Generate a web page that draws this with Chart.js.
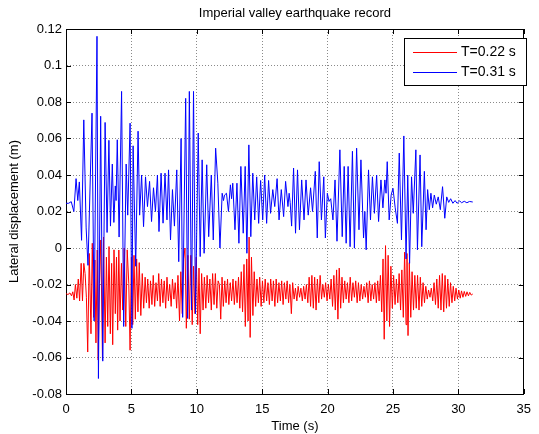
<!DOCTYPE html>
<html><head><meta charset="utf-8">
<script src="https://cdn.jsdelivr.net/npm/chart.js@4/dist/chart.umd.min.js"></script>
<style>html,body{margin:0;padding:0;background:#fff;}canvas{display:block;}</style>
</head><body>
<canvas id="c" width="539" height="434"></canvas>
<script>
const chartTitle = 'Imperial valley earthquake record';
const xAxisLabel = 'Time (s)';
const yAxisLabel = 'Lateral displacement (m)';
const seriesNames = ['T=0.22 s', 'T=0.31 s'];
const seriesColors = ['#ff0000', '#0000ff'];
const xTicks = [0, 5, 10, 15, 20, 25, 30, 35];
const yTicks = [-0.08, -0.06, -0.04, -0.02, 0, 0.02, 0.04, 0.06, 0.08, 0.1, 0.12];

const redTime = [0.00,0.15,0.30,0.42,0.52,0.62,0.72,0.83,0.94,1.04,1.16,1.26,1.36,1.46,1.56,1.66,1.78,1.91,2.01,2.11,2.21,2.29,2.39,2.46,2.56,2.66,2.79,2.87,2.99,3.09,3.19,3.29,3.39,3.49,3.57,3.67,3.77,3.86,3.95,4.04,4.13,4.24,4.34,4.45,4.57,4.68,4.80,4.90,5.00,5.10,5.20,5.30,5.40,5.50,5.60,5.72,5.83,5.94,6.05,6.15,6.25,6.36,6.46,6.57,6.67,6.78,6.88,6.99,7.09,7.20,7.30,7.41,7.51,7.62,7.72,7.83,7.93,8.04,8.14,8.25,8.35,8.46,8.56,8.68,8.78,8.89,8.99,9.10,9.20,9.32,9.43,9.54,9.65,9.75,9.86,9.96,10.07,10.17,10.26,10.37,10.48,10.58,10.69,10.79,10.90,11.00,11.11,11.21,11.32,11.42,11.53,11.63,11.73,11.83,11.93,12.03,12.14,12.24,12.35,12.45,12.56,12.66,12.77,12.87,12.98,13.08,13.19,13.29,13.40,13.50,13.61,13.71,13.82,13.92,14.00,14.08,14.18,14.29,14.39,14.50,14.60,14.71,14.81,14.92,15.02,15.13,15.23,15.34,15.44,15.55,15.65,15.76,15.86,15.97,16.07,16.18,16.28,16.39,16.49,16.60,16.70,16.81,16.91,17.02,17.12,17.23,17.33,17.44,17.54,17.65,17.75,17.86,17.96,18.07,18.17,18.28,18.38,18.49,18.59,18.70,18.80,18.91,19.01,19.12,19.22,19.33,19.43,19.54,19.64,19.75,19.85,19.96,20.06,20.17,20.27,20.38,20.48,20.59,20.69,20.79,20.89,21.00,21.10,21.21,21.31,21.42,21.52,21.63,21.73,21.84,21.94,22.05,22.15,22.26,22.36,22.47,22.57,22.68,22.78,22.89,22.99,23.10,23.20,23.31,23.41,23.52,23.62,23.73,23.83,23.94,24.04,24.14,24.24,24.33,24.43,24.53,24.63,24.74,24.84,24.95,25.05,25.16,25.26,25.37,25.47,25.58,25.68,25.79,25.89,26.00,26.07,26.15,26.25,26.36,26.46,26.57,26.67,26.78,26.88,26.99,27.09,27.20,27.30,27.41,27.51,27.62,27.72,27.83,27.93,28.04,28.14,28.25,28.35,28.46,28.56,28.67,28.77,28.88,28.98,29.09,29.19,29.30,29.40,29.51,29.61,29.72,29.82,29.93,30.03,30.14,30.24,30.35,30.45,30.56,30.66,30.77,30.87,30.98,31.10];
const redDisp = [-0.0250,-0.0255,-0.0246,-0.0262,-0.0240,-0.0285,-0.0200,-0.0275,-0.0170,-0.0290,-0.0084,-0.0290,-0.0084,-0.0140,-0.0270,-0.0570,-0.0030,-0.0470,0.0026,-0.0380,-0.0066,-0.0520,-0.0011,-0.0614,-0.0194,0.0044,-0.0614,0.0060,-0.0520,-0.0050,-0.0430,0.0008,-0.0470,-0.0084,-0.0530,-0.0010,-0.0360,-0.0050,-0.0450,-0.0011,-0.0400,-0.0084,-0.0340,0.0000,-0.0430,-0.0010,-0.0194,-0.0560,-0.0050,-0.0420,-0.0040,-0.0390,-0.0060,-0.0350,-0.0080,-0.0370,-0.0140,-0.0330,-0.0160,-0.0300,-0.0170,-0.0330,-0.0180,-0.0310,-0.0150,-0.0320,-0.0190,-0.0290,-0.0140,-0.0320,-0.0170,-0.0300,-0.0180,-0.0330,-0.0160,-0.0290,-0.0200,-0.0320,-0.0170,-0.0280,-0.0190,-0.0330,-0.0150,-0.0400,-0.0130,-0.0360,-0.0060,0.0000,-0.0440,-0.0040,-0.0390,-0.0040,-0.0420,-0.0100,-0.0360,-0.0050,-0.0420,-0.0110,-0.0470,-0.0140,-0.0340,-0.0160,-0.0330,-0.0150,-0.0300,-0.0170,-0.0340,-0.0140,-0.0310,-0.0140,-0.0330,-0.0180,-0.0200,-0.0390,-0.0160,-0.0320,-0.0180,-0.0300,-0.0170,-0.0310,-0.0190,-0.0290,-0.0170,-0.0310,-0.0180,-0.0300,-0.0160,-0.0330,-0.0130,-0.0350,-0.0090,-0.0430,-0.0060,-0.0400,0.0060,-0.0490,-0.0050,-0.0370,-0.0130,-0.0320,-0.0170,-0.0300,-0.0160,-0.0320,-0.0180,-0.0300,-0.0170,-0.0290,-0.0190,-0.0310,-0.0170,-0.0290,-0.0180,-0.0320,-0.0170,-0.0300,-0.0190,-0.0290,-0.0180,-0.0310,-0.0190,-0.0280,-0.0180,-0.0300,-0.0200,-0.0360,-0.0190,-0.0280,-0.0220,-0.0290,-0.0210,-0.0270,-0.0220,-0.0290,-0.0210,-0.0280,-0.0200,-0.0300,-0.0160,-0.0320,-0.0150,-0.0330,-0.0160,-0.0340,-0.0170,-0.0300,-0.0150,-0.0280,-0.0200,-0.0270,-0.0190,-0.0290,-0.0200,-0.0280,-0.0170,-0.0320,-0.0150,-0.0340,-0.0120,-0.0390,-0.0110,-0.0330,-0.0160,-0.0300,-0.0180,-0.0280,-0.0190,-0.0300,-0.0160,-0.0290,-0.0190,-0.0270,-0.0180,-0.0300,-0.0190,-0.0290,-0.0200,-0.0280,-0.0210,-0.0270,-0.0190,-0.0300,-0.0180,-0.0290,-0.0200,-0.0280,-0.0190,-0.0300,-0.0180,-0.0290,-0.0150,-0.0350,-0.0060,-0.0500,0.0013,-0.0400,-0.0040,-0.0430,-0.0100,-0.0330,-0.0150,-0.0310,-0.0170,-0.0300,-0.0140,-0.0340,-0.0120,-0.0380,-0.0023,-0.0420,-0.0030,-0.0480,-0.0080,-0.0380,-0.0130,-0.0340,-0.0150,-0.0330,-0.0150,-0.0340,-0.0160,-0.0320,-0.0190,-0.0300,-0.0210,-0.0280,-0.0230,-0.0270,-0.0220,-0.0290,-0.0190,-0.0310,-0.0170,-0.0330,-0.0150,-0.0340,-0.0140,-0.0350,-0.0150,-0.0330,-0.0170,-0.0320,-0.0190,-0.0300,-0.0210,-0.0290,-0.0220,-0.0280,-0.0230,-0.0275,-0.0235,-0.0270,-0.0238,-0.0265,-0.0240,-0.0262,-0.0243,-0.0258,-0.0252];

const blueTime = [0.00,0.20,0.40,0.60,0.77,0.90,1.02,1.19,1.36,1.54,1.68,1.99,2.15,2.37,2.48,2.65,2.81,2.99,3.14,3.28,3.40,3.54,3.66,3.77,3.83,3.92,4.06,4.25,4.41,4.60,4.72,4.90,5.04,5.13,5.33,5.51,5.63,5.78,5.93,6.08,6.23,6.39,6.54,6.69,6.84,6.99,7.11,7.27,7.42,7.57,7.72,7.84,7.99,8.14,8.29,8.47,8.62,8.80,8.92,9.15,9.30,9.43,9.60,9.75,9.90,10.11,10.26,10.41,10.56,10.76,10.91,11.11,11.26,11.44,11.61,11.77,11.94,12.04,12.12,12.27,12.42,12.57,12.66,12.75,12.92,13.07,13.22,13.37,13.55,13.70,13.83,13.98,14.13,14.28,14.43,14.58,14.73,14.88,15.04,15.19,15.34,15.49,15.64,15.81,15.96,16.14,16.29,16.46,16.64,16.79,16.97,17.06,17.14,17.25,17.40,17.55,17.70,17.85,18.02,18.20,18.35,18.52,18.70,18.85,19.06,19.21,19.36,19.53,19.71,19.83,19.98,20.11,20.24,20.41,20.57,20.72,20.94,21.12,21.27,21.42,21.57,21.72,21.90,22.05,22.22,22.40,22.55,22.75,22.85,22.95,23.13,23.28,23.43,23.58,23.75,23.90,24.08,24.23,24.38,24.47,24.56,24.71,24.86,25.00,25.17,25.34,25.48,25.65,25.83,26.00,26.13,26.27,26.42,26.55,26.75,26.87,27.07,27.20,27.40,27.53,27.65,27.78,27.90,28.03,28.16,28.31,28.46,28.62,28.79,28.96,29.11,29.26,29.41,29.58,29.75,29.90,30.10,30.25,30.45,30.65,30.85,31.10];
const blueDisp = [0.0245,0.0245,0.0254,0.0200,0.0380,0.0260,0.0362,0.0042,0.0702,0.0110,-0.0095,0.0739,-0.0400,0.1160,-0.0715,0.0722,-0.0620,0.0688,0.0085,0.0590,0.0120,0.0460,0.0140,0.0340,0.0260,0.0593,0.0060,0.0858,-0.0430,0.0460,0.0180,0.0684,-0.0440,0.0560,-0.0100,0.0640,0.0180,0.0400,0.0117,0.0390,0.0227,0.0365,0.0145,0.0330,0.0200,0.0400,0.0090,0.0410,0.0136,0.0410,0.0154,0.0428,0.0044,0.0320,0.0120,0.0428,-0.0075,0.0600,-0.0380,0.0820,-0.0386,0.0858,-0.0340,0.0858,-0.0360,0.0630,-0.0047,0.0483,-0.0029,0.0456,0.0062,0.0400,0.0044,0.0547,0.0355,0.0000,0.0300,0.0260,0.0290,0.0300,0.0200,0.0346,0.0270,0.0355,0.0100,0.0355,0.0026,0.0447,0.0081,0.0447,-0.0029,0.0565,0.0062,0.0410,0.0154,0.0390,0.0135,0.0370,0.0154,0.0400,0.0135,0.0370,0.0190,0.0320,0.0227,0.0380,0.0154,0.0320,0.0172,0.0365,0.0227,0.0300,0.0250,0.0120,0.0438,0.0081,0.0428,0.0100,0.0373,0.0154,0.0373,0.0180,0.0330,0.0200,0.0420,0.0055,0.0473,0.0154,0.0390,0.0055,0.0300,0.0255,0.0270,0.0154,0.0373,0.0037,0.0538,0.0062,0.0447,0.0026,0.0447,0.0007,0.0530,-0.0001,0.0547,0.0100,0.0483,0.0055,0.0200,-0.0010,0.0428,0.0154,0.0390,0.0190,0.0400,0.0145,0.0373,0.0220,0.0373,0.0300,0.0473,0.0154,0.0290,0.0327,0.0220,0.0135,0.0520,0.0044,0.0614,-0.0060,0.0400,-0.0084,0.0390,0.0190,0.0538,-0.0010,0.0510,0.0007,0.0420,0.0100,0.0320,0.0210,0.0300,0.0220,0.0290,0.0240,0.0280,0.0210,0.0336,0.0163,0.0280,0.0250,0.0270,0.0245,0.0260,0.0245,0.0258,0.0248,0.0256,0.0248,0.0255,0.0252];

const FONT = '"Liberation Sans", Arial, Helvetica, sans-serif';
const toPts = (ts, vs) => ts.map((t, i) => ({x: t, y: vs[i]}));

const innerTicks = {
  id: 'innerTicks',
  afterDatasetsDraw(chart) {
    const {ctx, chartArea: a, scales: {x, y}} = chart;
    ctx.save();
    ctx.strokeStyle = '#000';
    ctx.lineWidth = 1;
    ctx.setLineDash([]);
    ctx.beginPath();
    x.ticks.forEach(t => {
      const px = Math.round(x.getPixelForValue(t.value)) + 0.5;
      ctx.moveTo(px, a.bottom); ctx.lineTo(px, a.bottom - 5);
      ctx.moveTo(px, a.top); ctx.lineTo(px, a.top + 5);
    });
    y.ticks.forEach(t => {
      const py = Math.round(y.getPixelForValue(t.value)) + 0.5;
      ctx.moveTo(a.left, py); ctx.lineTo(a.left + 5, py);
      ctx.moveTo(a.right, py); ctx.lineTo(a.right - 5, py);
    });
    ctx.stroke();
    ctx.restore();
  }
};

const boxLegend = {
  id: 'boxLegend',
  afterDraw(chart) {
    const ctx = chart.ctx;
    const bx = 404.5, by = 38.5, bw = 122, bh = 47;
    ctx.save();
    ctx.setLineDash([]);
    ctx.fillStyle = '#fff';
    ctx.fillRect(bx, by, bw, bh);
    ctx.strokeStyle = '#000';
    ctx.lineWidth = 1;
    ctx.strokeRect(bx, by, bw, bh);
    seriesNames.forEach((name, i) => {
      const yy = 52 + i * 20;
      ctx.beginPath();
      ctx.strokeStyle = seriesColors[i];
      ctx.lineWidth = 1;
      ctx.moveTo(413, yy + 0.5);
      ctx.lineTo(457, yy + 0.5);
      ctx.stroke();
      ctx.fillStyle = '#000';
      ctx.font = '14px ' + FONT;
      ctx.textBaseline = 'middle';
      ctx.textAlign = 'left';
      ctx.fillText(name, 461, yy + 0.5);
    });
    ctx.restore();
  }
};

const fontSpec = {family: FONT, size: 13};

new Chart(document.getElementById('c'), {
  type: 'line',
  data: {
    datasets: [
      {label: seriesNames[0], data: toPts(redTime, redDisp), borderColor: seriesColors[0], borderWidth: 1, pointRadius: 0, tension: 0, fill: false, order: 1},
      {label: seriesNames[1], data: toPts(blueTime, blueDisp), borderColor: seriesColors[1], borderWidth: 1, pointRadius: 0, tension: 0, fill: false, order: 0}
    ]
  },
  options: {
    responsive: false,
    devicePixelRatio: 1,
    animation: false,
    layout: {padding: 0},
    plugins: {legend: {display: false}, tooltip: {enabled: false}, title: {display: false}},
    scales: {
      x: {
        type: 'linear', position: 'bottom', min: 0, max: 35,
        afterBuildTicks: s => { s.ticks = xTicks.map(v => ({value: v})); },
        afterFit: s => { s.height = 40; },
        ticks: {color: '#000', font: fontSpec, padding: 8, maxRotation: 0, autoSkip: false, callback: v => String(v)},
        grid: {color: '#8a8a8a', lineWidth: 1, drawTicks: false},
        border: {display: true, color: '#000', width: 1, dash: [1, 2]},
        title: {display: true, text: xAxisLabel, color: '#000', font: fontSpec, padding: {top: 0, bottom: 0}}
      },
      y: {
        type: 'linear', position: 'left', min: -0.08, max: 0.12,
        afterBuildTicks: s => { s.ticks = yTicks.map(v => ({value: v})); },
        afterFit: s => { s.width = 66; },
        ticks: {color: '#000', font: fontSpec, padding: 4, autoSkip: false, callback: v => String(+Number(v).toFixed(2))},
        grid: {color: '#8a8a8a', lineWidth: 1, drawTicks: false},
        border: {display: true, color: '#000', width: 1, dash: [1, 2]},
        title: {display: true, text: yAxisLabel, color: '#000', font: fontSpec, padding: {top: 7, bottom: 0}}
      },
      x2: {
        type: 'linear', position: 'top', min: 0, max: 35,
        afterFit: s => { s.height = 29; },
        ticks: {display: false},
        grid: {display: false, drawTicks: false},
        border: {display: true, color: '#000', width: 1},
        title: {display: true, text: chartTitle, color: '#000', font: fontSpec, padding: {top: 6, bottom: 0}}
      },
      y2: {
        type: 'linear', position: 'right', min: -0.08, max: 0.12,
        afterFit: s => { s.width = 10; },
        ticks: {display: false},
        grid: {display: false, drawTicks: false},
        border: {display: true, color: '#000', width: 1}
      }
    }
  },
  plugins: [innerTicks, boxLegend]
});
</script>
</body></html>
